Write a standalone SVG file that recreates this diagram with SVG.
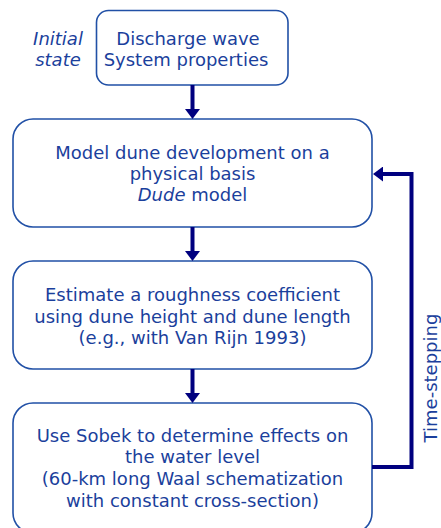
<svg xmlns="http://www.w3.org/2000/svg" width="441" height="528" viewBox="0 0 441 528">
  <style>
    .box { fill: #ffffff; stroke: #2150a6; stroke-width: 1.6; }
    .lbl { font-family: "DejaVu Sans", "Liberation Sans", sans-serif; font-size: 18px; fill: #1b3f9c; text-anchor: middle; }
    .it { font-style: italic; }
    .wire { fill: none; stroke: #00007f; stroke-width: 4; }
  </style>
  <defs>
    <marker id="head" markerUnits="userSpaceOnUse" markerWidth="10" markerHeight="15" refX="1" refY="7.5" orient="auto" viewBox="0 0 10 15">
      <path d="M0,0 L10,7.5 L0,15 z" fill="#00007f"/>
    </marker>
  </defs>
  <rect width="441" height="528" fill="#ffffff"/>

  <!-- side label -->
  <g id="initial-state">
    <text class="lbl it" x="58" y="44.5">Initial</text>
    <text class="lbl it" x="58" y="66">state</text>
  </g>

  <g id="input">
    <rect class="box" x="96.5" y="10.5" width="191.5" height="74.5" rx="12"/>
    <text class="lbl" x="188" y="44.5">Discharge wave</text>
    <text class="lbl" x="186" y="66">System properties</text>
  </g>

  <g id="dune-model">
    <rect class="box" x="13" y="119" width="359" height="108" rx="20"/>
    <text class="lbl" x="192.5" y="159.3">Model dune development on a</text>
    <text class="lbl" x="192.5" y="180">physical basis</text>
    <text class="lbl" x="192.5" y="200.7"><tspan class="it">Dude</tspan> model</text>
  </g>

  <g id="roughness">
    <rect class="box" x="13" y="261" width="359" height="108" rx="20"/>
    <text class="lbl" x="192.5" y="300.7">Estimate a roughness coefficient</text>
    <text class="lbl" x="192.5" y="322.5">using dune height and dune length</text>
    <text class="lbl" x="192.5" y="344">(e.g., with Van Rijn 1993)</text>
  </g>

  <g id="sobek">
    <rect class="box" x="13" y="403" width="359" height="130" rx="20"/>
    <text class="lbl" x="192.5" y="441.7">Use Sobek to determine effects on</text>
    <text class="lbl" x="192.5" y="463.3">the water level</text>
    <text class="lbl" x="192.5" y="485.3">(60-km long Waal schematization</text>
    <text class="lbl" x="192.5" y="507.3">with constant cross-section)</text>
  </g>

  <g id="connectors">
    <line class="wire" x1="192.5" y1="85" x2="192.5" y2="110" marker-end="url(#head)"/>
    <line class="wire" x1="192.5" y1="227" x2="192.5" y2="252" marker-end="url(#head)"/>
    <line class="wire" x1="192.5" y1="369" x2="192.5" y2="394" marker-end="url(#head)"/>
    <polyline class="wire" points="372,467 411.5,467 411.5,174 382,174" marker-end="url(#head)"/>
    <text class="lbl" transform="translate(437,378) rotate(-90)">Time-stepping</text>
  </g>
</svg>
